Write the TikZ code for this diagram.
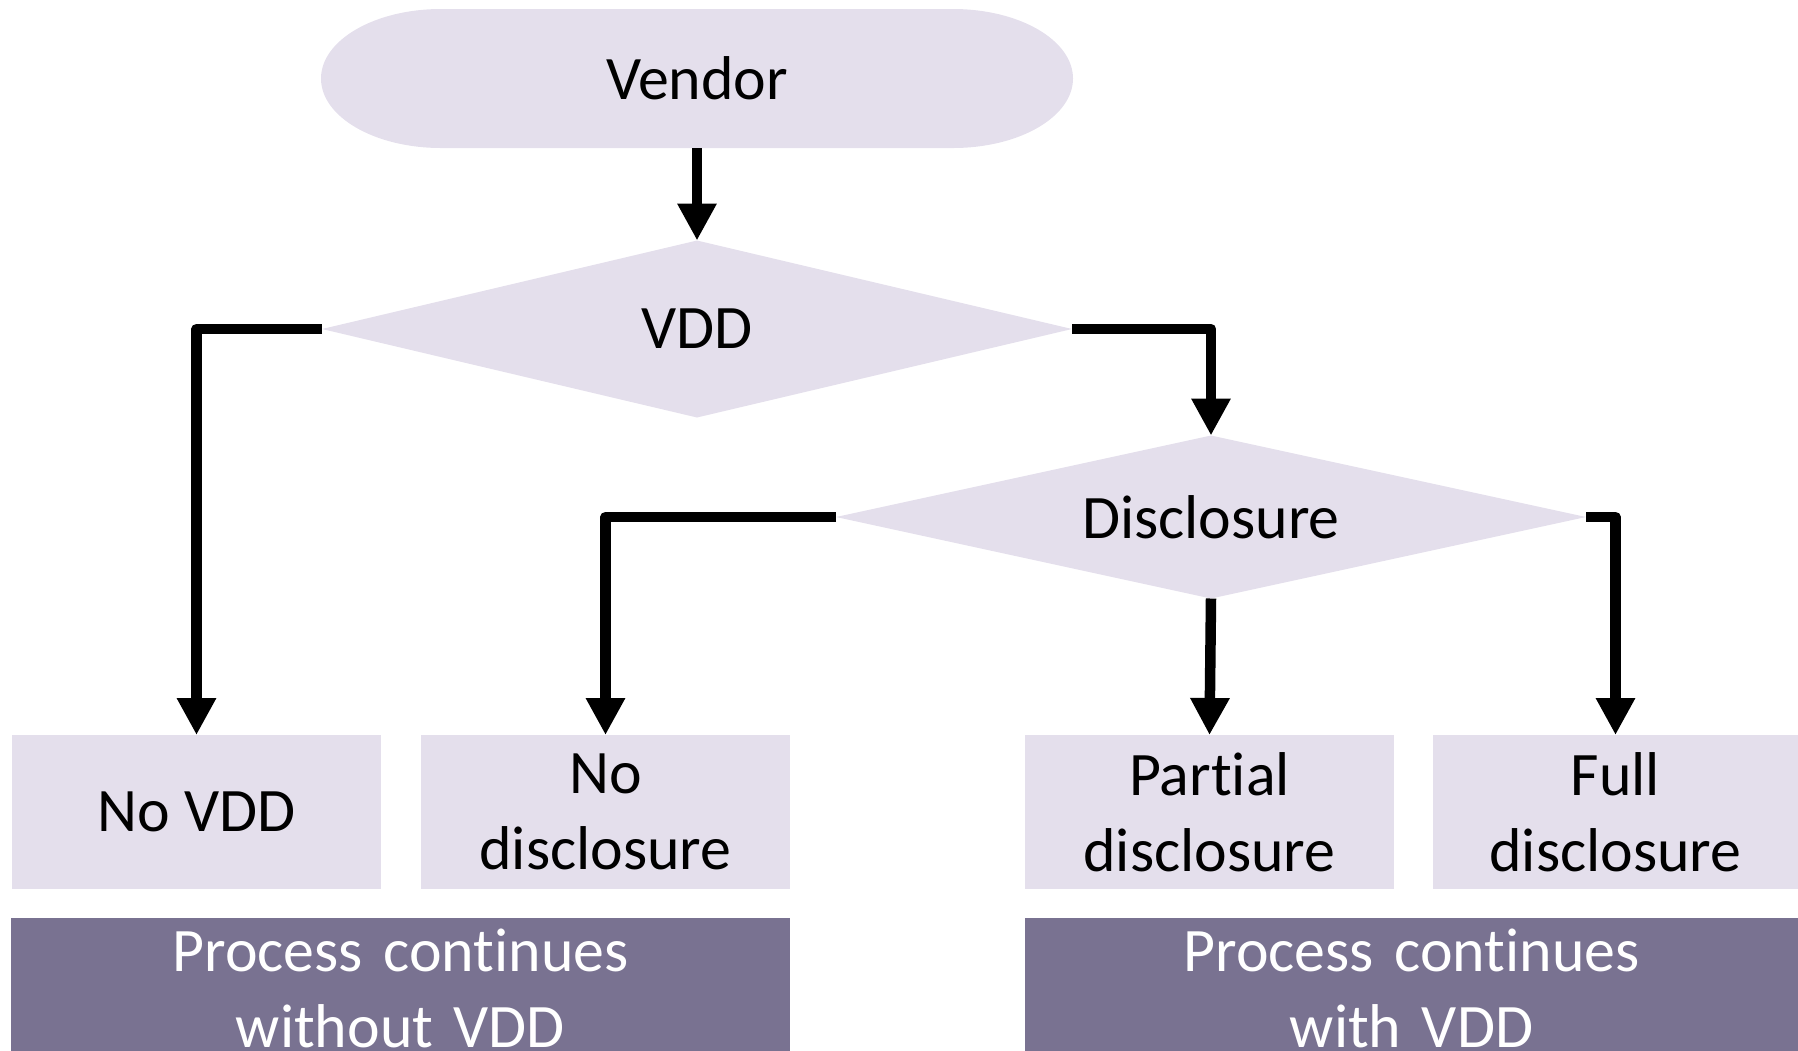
\documentclass[tikz,border=0pt]{standalone}
\usepackage{fontspec}
\setmainfont{Carlito}[Ligatures=NoCommon]
\usepackage{tikz}
\usetikzlibrary{arrows.meta,positioning,shapes.geometric,backgrounds}
\definecolor{lav}{RGB}{228,223,236}
\definecolor{plum}{RGB}{121,114,145}
\tikzset{
  lavbox/.style={fill=lav,minimum width=3.69cm,minimum height=1.54cm,inner sep=0pt,outer sep=0pt,align=center},
  diam/.style={diamond,fill=lav,aspect=4.6,minimum width=7.5cm,inner sep=0pt,outer sep=0pt},
  outbox/.style={fill=plum,text=white,inner xsep=0pt,inner ysep=0.11cm,outer sep=0pt,align=center,anchor=north},
  flow/.style={line width=0.105cm,line join=round,-{Triangle[length=0.37cm,width=0.37cm]}},
}

\begin{document}
\begin{tikzpicture}[font=\fontsize{17.6pt}{21.6pt}\selectfont]
\useasboundingbox (0,0) rectangle (17.98,-10.5);
\clip (0,0) rectangle (17.98,-10.5);
% start and decisions
\node[minimum width=7.52cm,minimum height=1.39cm,inner sep=0pt,outer sep=0pt] (vendor) at (6.97,-0.785) {Vendor};
\begin{scope}[on background layer]
\fill[lav] ([xshift=1.2cm]vendor.north west) -- ([xshift=-1.2cm]vendor.north east) arc[start angle=90,end angle=-90,x radius=1.2cm,y radius=0.695cm] -- ([xshift=1.2cm]vendor.south west) arc[start angle=270,end angle=90,x radius=1.2cm,y radius=0.695cm] -- cycle;
\end{scope}
\node[diam,minimum height=1.77cm] (vdd) at (6.97,-3.29) {VDD};
\node[diam,minimum height=1.63cm] (disc) at (12.11,-5.17) {Disclosure};
% outcomes
\node[lavbox] (novdd) at (1.965,-8.12) {No VDD};
\node[lavbox] (nodisc) at (6.055,-8.12) {No\\disclosure};
\node[lavbox] (partial) at (12.095,-8.12) {Partial\\disclosure};
\node[lavbox,minimum width=3.65cm] (full) at (16.155,-8.12) {Full\\disclosure};
\node[outbox,text width=7.79cm] (without) at (4.005,-9.18) {Process continues\\without VDD};
\node[outbox,text width=7.73cm] (with) at (14.115,-9.18) {Process continues\\with VDD};
% connectors
\draw[flow] (vendor.south) -- (vdd.north);
\draw[flow] (vdd.west) -| (novdd.north);
\draw[flow] (vdd.east) -| (disc.north);
\draw[flow] (disc.west) -| (nodisc.north);
\draw[flow] (disc.south) -- (partial.north);
\draw[flow] (disc.east) -| (full.north);
\end{tikzpicture}
\end{document}
